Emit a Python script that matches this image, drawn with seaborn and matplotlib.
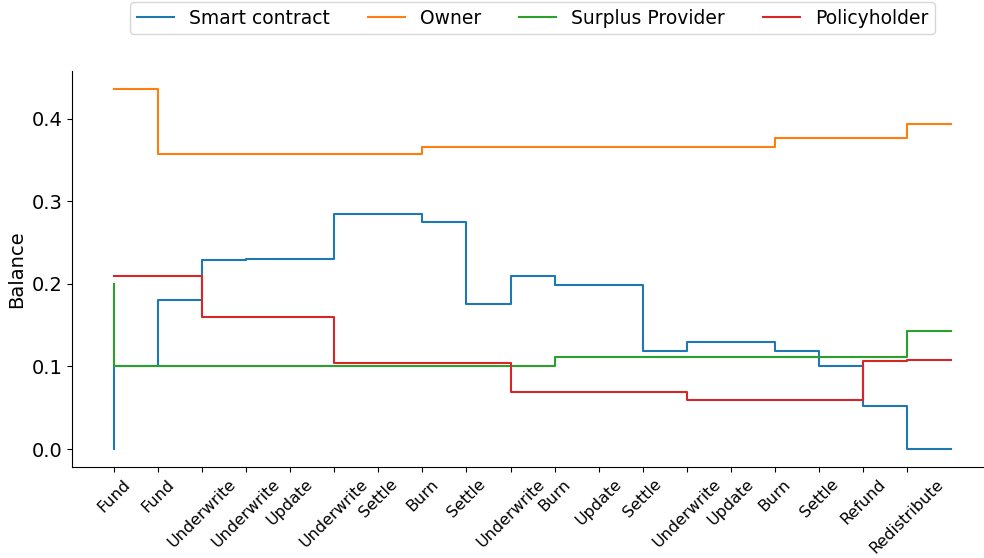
import matplotlib
matplotlib.use('agg')
import numpy as np
import pandas as pd
import matplotlib.pyplot as plt
import seaborn as sns

actions = ["Fund", "Fund", "Underwrite", "Underwrite", "Update", "Underwrite",
           "Settle", "Burn", "Settle", "Underwrite", "Burn", "Update", "Settle",
           "Underwrite", "Update", "Burn", "Settle", "Refund", "Redistribute"]

smart_contract = [0.0, 0.1, 0.18, 0.229, 0.23, 0.23, 0.285, 0.285, 0.275, 0.175,
                  0.21, 0.199, 0.199, 0.119, 0.129, 0.129, 0.119, 0.1, 0.052, 0.0]
owner = [0.436, 0.436, 0.357, 0.357, 0.357, 0.357, 0.357, 0.357, 0.366, 0.366,
         0.366, 0.366, 0.366, 0.366, 0.366, 0.366, 0.376, 0.376, 0.376, 0.394]
surplus_provider = [0.2, 0.1, 0.1, 0.1, 0.1, 0.1, 0.1, 0.1, 0.1, 0.1,
                    0.1, 0.111, 0.111, 0.111, 0.111, 0.111, 0.111, 0.111, 0.111, 0.143]
policyholder = [0.21, 0.21, 0.21, 0.16, 0.16, 0.16, 0.104, 0.104, 0.104, 0.104,
                0.069, 0.069, 0.069, 0.069, 0.059, 0.059, 0.059, 0.059, 0.106, 0.108]

series = {"Smart contract": smart_contract, "Owner": owner,
          "Surplus Provider": surplus_provider, "Policyholder": policyholder}

rows = []
for name, vals in series.items():
    for i, v in enumerate(vals):
        rows.append({"step": i, "balance": v, "party": name})
df = pd.DataFrame(rows)

fig = plt.figure(figsize=(9.84, 5.58), dpi=100)
ax = fig.add_axes([0.0732, 0.163, 0.936, 0.71])

sns.lineplot(data=df, x="step", y="balance", hue="party",
             hue_order=list(series.keys()), palette="tab10",
             drawstyle="steps-pre", ax=ax, linewidth=1.5)

ax.set_xticks(range(len(actions)))
ax.set_xticklabels(actions, rotation=45, fontsize=11.5)
ax.tick_params(axis="y", labelsize=14)
ax.set_xlabel("")
ax.set_ylabel("Balance", fontsize=14)
ax.set_yticks([0.0, 0.1, 0.2, 0.3, 0.4])
sns.despine(ax=ax)

# legend sits above the plot area
ax.legend(loc="lower center", bbox_to_anchor=(0.5, 1.069), ncol=4,
          fontsize=13.5, frameon=True, borderpad=0.35, handlelength=2.0,
          columnspacing=2.0)

fig.savefig("out.png", dpi=100)
